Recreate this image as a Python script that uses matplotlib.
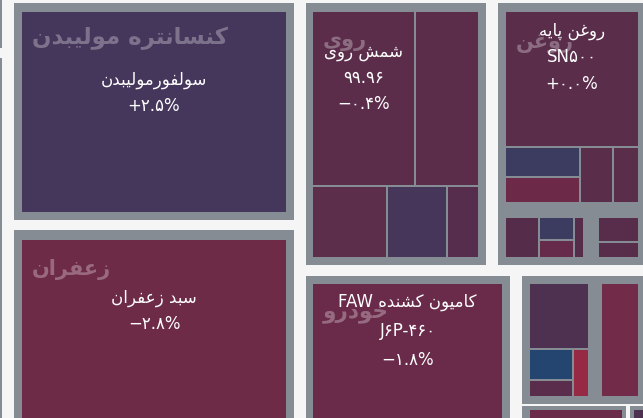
import matplotlib
matplotlib.use('Agg')
from matplotlib import pyplot as plt
from matplotlib.patches import Rectangle

# leaf values (relative traded value) and colours per group
moly_values = [100]
moly_colors = ['#45365b']

saffron_values = [100]
saffron_colors = ['#6e2b48']

zinc_values = [174, 107, 52, 41, 21]
zinc_colors = ['#5b2d4b', '#5b2d4b', '#5c2e4b', '#45365a', '#562d4d']

oil_values = [174.2, 21.5, 18.5, 16.8, 13.4, 14.8, 8.3, 6.6, 3.7, 10.2, 6.5]
oil_colors = ['#5a2d4b', '#3b3c5f', '#6d2a48', '#5a2d4b', '#5a2d4b',
              '#562c4b', '#3b3c5f', '#662b4a', '#562c4b', '#582d4b', '#582d4b']

auto_values = [100]
auto_colors = ['#6a2b4a']

misc_values = [36, 12.6, 6.7, 6.7, 38.5]
misc_colors = ['#4e3050', '#23456f', '#592d4b', '#962944', '#722b48']

group_names = ['کنسانتره مولیبدن', 'زعفران', 'روی', 'روغن', 'خودرو']

leaf_names = ['سولفورمولیبدن', 'سبد زعفران', 'شمش روی', 'روغن پایه', 'کامیون کشنده']
leaf_models = ['', '', '۹۹.۹۶', 'SN۵۰۰', 'J۶P-۴۶۰']
leaf_changes = ['+۲.۵%', '−۲.۸%', '−۰.۴%', '+۰.۰%', '−۱.۸%']

BG = '#f5f5f5'
FRAME = '#858c94'

# presentation forms: isolated, final, initial, medial
FORMS = {
    '\u0627': (0xFE8D, 0xFE8E, None, None),
    '\u0628': (0xFE8F, 0xFE90, 0xFE91, 0xFE92),
    '\u067E': (0xFB56, 0xFB57, 0xFB58, 0xFB59),
    '\u062A': (0xFE95, 0xFE96, 0xFE97, 0xFE98),
    '\u062C': (0xFE9D, 0xFE9E, 0xFE9F, 0xFEA0),
    '\u062E': (0xFEA5, 0xFEA6, 0xFEA7, 0xFEA8),
    '\u062F': (0xFEA9, 0xFEAA, None, None),
    '\u0631': (0xFEAD, 0xFEAE, None, None),
    '\u0632': (0xFEAF, 0xFEB0, None, None),
    '\u0633': (0xFEB1, 0xFEB2, 0xFEB3, 0xFEB4),
    '\u0634': (0xFEB5, 0xFEB6, 0xFEB7, 0xFEB8),
    '\u0639': (0xFEC9, 0xFECA, 0xFECB, 0xFECC),
    '\u063A': (0xFECD, 0xFECE, 0xFECF, 0xFED0),
    '\u0641': (0xFED1, 0xFED2, 0xFED3, 0xFED4),
    '\u06A9': (0xFB8E, 0xFB8F, 0xFB90, 0xFB91),
    '\u0644': (0xFEDD, 0xFEDE, 0xFEDF, 0xFEE0),
    '\u0645': (0xFEE1, 0xFEE2, 0xFEE3, 0xFEE4),
    '\u0646': (0xFEE5, 0xFEE6, 0xFEE7, 0xFEE8),
    '\u0647': (0xFEE9, 0xFEEA, 0xFEEB, 0xFEEC),
    '\u0648': (0xFEED, 0xFEEE, None, None),
    '\u06CC': (0xFBFC, 0xFBFD, 0xFBFE, 0xFBFF),
}


def fa(text):
    # join letters and flip to visual order (no bidi engine available)
    text = text.replace('\u064A', '\u06CC').replace('\u0643', '\u06A9')
    out = []
    for i, ch in enumerate(text):
        if ch not in FORMS:
            out.append(ch)
            continue
        iso, fin, ini, med = FORMS[ch]
        prev = text[i - 1] if i > 0 else ''
        nxt = text[i + 1] if i + 1 < len(text) else ''
        jp = prev in FORMS and FORMS[prev][2] is not None
        jn = ini is not None and nxt in FORMS
        if jp and jn:
            cp = med
        elif jp:
            cp = fin
        elif jn:
            cp = ini
        else:
            cp = iso
        out.append(chr(cp))
    return ''.join(reversed(out))


def weight(node, values):
    if isinstance(node, int):
        return values[node]
    return sum(weight(c, values) for c in node[2])


def layout(node, box, values, out):
    if isinstance(node, int):
        out[node] = box
        return
    direction, gap, children = node
    x0, y0, x1, y1 = box
    ws = [weight(c, values) for c in children]
    total = sum(ws)
    span = (x1 - x0) if direction == 'h' else (y1 - y0)
    span -= gap * (len(children) - 1)
    pos = x0 if direction == 'h' else y0
    for c, w in zip(children, ws):
        size = span * w / total
        if direction == 'h':
            layout(c, (pos, y0, pos + size, y1), values, out)
        else:
            layout(c, (x0, pos, x1, pos + size), values, out)
        pos += size + gap


zinc_tree = ('v', 2, [('h', 2, [0, 1]), ('h', 2, [2, 3, 4])])
oil_tree = ('v', 16, [
    ('v', 2, [0, ('h', 2, [('v', 2, [1, 2]), 3, 4])]),
    ('h', 16, [('h', 2, [5, ('v', 2, [6, 7]), 8]), ('v', 2, [9, 10])]),
])
misc_tree = ('h', 14, [('v', 2, [0, ('h', 2, [('v', 2, [1, 2]), 3])]), 4])

# frame box, padding (l, t, r, b), tree, values, colours, group label index
groups = [
    ((14, 3, 294, 220), (8, 9, 8, 8), 0, moly_values, moly_colors, 0),
    ((14, 230, 294, 440), (8, 10, 8, 8), 0, saffron_values, saffron_colors, 1),
    ((306, 3, 486, 265), (7, 9, 8, 8), zinc_tree, zinc_values, zinc_colors, 2),
    ((498, 3, 646, 265), (8, 9, 8, 8), oil_tree, oil_values, oil_colors, 3),
    ((306, 276, 510, 440), (7, 8, 8, 8), 0, auto_values, auto_colors, 4),
    ((522, 276, 646, 404), (8, 8, 8, 8), misc_tree, misc_values, misc_colors, None),
    ((522, 406, 626, 440), (8, 4, 4, 8), 0, [1], ['#6a2b4a'], None),
    ((630, 406, 700, 440), (4, 4, 8, 8), 0, [1], ['#4e3050'], None),
]
edge_frames = [(-20, -10, 2, 48), (-20, 58, 2, 440)]

# group label: font size and vertical offset below inner top
group_label_size = [16.5, 15, 15, 15, 15.5]
group_label_dy = [26, 30, 29, 31, 30]

# which leaf carries each label: (group index, leaf index, top offset, line step)
label_spots = [(0, 0, 68, 26), (1, 0, 58, 26), (2, 0, 40, 26), (3, 0, 19, 26.5), (4, 0, 18, 29)]

fig = plt.figure(figsize=(6.43, 4.18), dpi=100)
fig.patch.set_facecolor(BG)
ax = fig.add_axes([0, 0, 1, 1])
ax.set_xlim(0, 643)
ax.set_ylim(418, 0)
ax.axis('off')

for x0, y0, x1, y1 in edge_frames:
    ax.add_patch(Rectangle((x0, y0), x1 - x0, y1 - y0, color=FRAME, lw=0))

leaf_boxes = []
for frame, pad, tree, values, colors, gname in groups:
    x0, y0, x1, y1 = frame
    ax.add_patch(Rectangle((x0, y0), x1 - x0, y1 - y0, color=FRAME, lw=0))
    inner = (x0 + pad[0], y0 + pad[1], x1 - pad[2], y1 - pad[3])
    boxes = {}
    layout(tree, inner, values, boxes)
    for i, (bx0, by0, bx1, by1) in boxes.items():
        ax.add_patch(Rectangle((bx0, by0), bx1 - bx0, by1 - by0,
                               color=colors[i], lw=0))
    leaf_boxes.append(boxes)
    if gname is not None:
        ax.text(inner[0] + 10, inner[1] + group_label_dy[gname],
                fa(group_names[gname]), fontsize=group_label_size[gname],
                fontweight='bold', color='white', alpha=0.3,
                ha='left', va='center', zorder=3)

for k, (g, leaf, top, step) in enumerate(label_spots):
    bx0, by0, bx1, by1 = leaf_boxes[g][leaf]
    cx = (bx0 + bx1) / 2
    name = fa(leaf_names[k])
    if k == 4:
        name = 'FAW ' + name
    lines = [name]
    if leaf_models[k]:
        lines.append(leaf_models[k])
    lines.append(leaf_changes[k])
    for j, line in enumerate(lines):
        ax.text(cx, by0 + top + j * step, line, fontsize=12, color='white',
                ha='center', va='center', zorder=4)

plt.savefig('out.png', dpi=100, facecolor=BG)
